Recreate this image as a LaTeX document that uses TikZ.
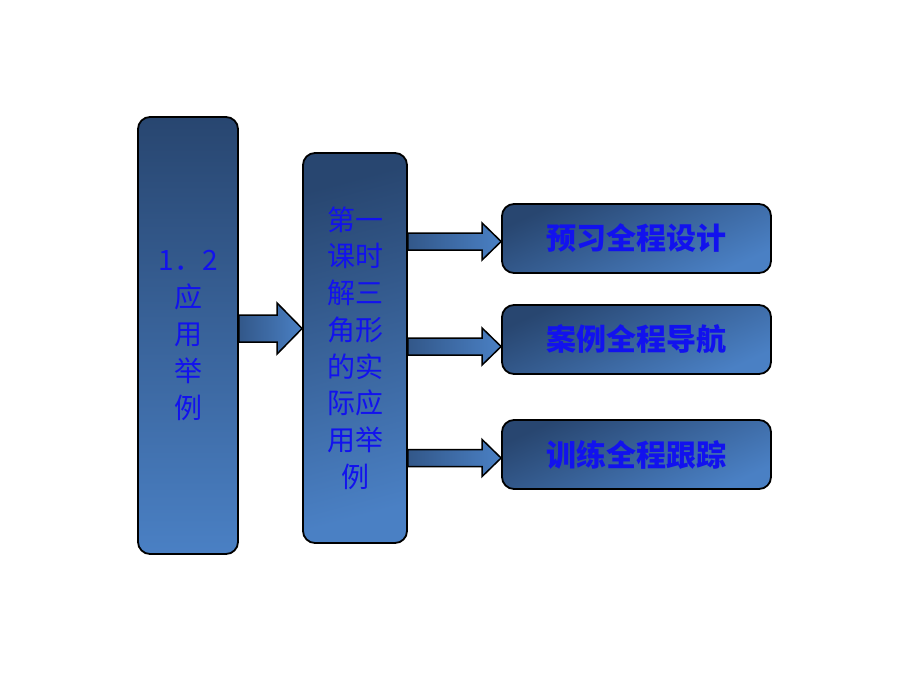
\documentclass[tikz,border=0pt]{standalone}
\usepackage{fontspec}
\newfontfamily\cjk{Noto Sans CJK SC}
\usetikzlibrary{calc}
\definecolor{boxdark}{HTML}{284670}
\definecolor{boxlight}{HTML}{4A80C4}
\definecolor{textblue}{HTML}{1212EE}
\tikzset{
  box/.style={draw=black, line width=1.8pt, rounded corners=12pt,
    top color=boxdark, bottom color=boxlight, inner sep=0pt,
    text=textblue, align=center},
  topicbox/.style={box, shading angle=25, font=\cjk\bfseries\fontsize{30}{32}\selectfont},
  arrowbody/.style={draw=black, line width=1.5pt, left color=boxdark!70!boxlight, right color=boxlight},
}
% block arrow: tail point, tip point, half shaft, half head, head length
\newcommand\blockarrow[5]{
  \draw[arrowbody] let \p1=(#1), \p2=(#2) in
    (\x1,{\y2+#3pt}) -- ({\x2-#5pt},{\y2+#3pt}) -- ({\x2-#5pt},{\y2+#4pt})
    -- (\x2,\y2) -- ({\x2-#5pt},{\y2-#4pt}) -- ({\x2-#5pt},{\y2-#3pt})
    -- (\x1,{\y2-#3pt}) -- cycle;
}
\begin{document}
\begin{tikzpicture}[x=1pt,y=-1pt]
  \useasboundingbox[fill=white] (0,0) rectangle (920,690);

  \node[box, minimum width=100pt, minimum height=437pt,
    font=\cjk\fontsize{28}{37}\selectfont] (chapter) at (188,335.5)
    {1．2\\应\\用\\举\\例};
  \node[box, shading angle=15, minimum width=104pt, minimum height=390pt,
    font=\cjk\fontsize{28}{36.7}\selectfont] (lesson) at (355,348)
    {第一\\课时\\解三\\角形\\的实\\际应\\用举\\例};

  \node[topicbox, minimum width=269pt, minimum height=69pt] (design) at (636.5,238.5) {预习全程设计};
  \node[topicbox, minimum width=269pt, minimum height=69pt] (guide) at (636.5,339.5) {案例全程导航};
  \node[topicbox, minimum width=269pt, minimum height=69pt] (track) at (636.5,454.5) {训练全程跟踪};

  \coordinate (bigtip) at (303,328.5);
  \blockarrow{chapter.east |- bigtip}{lesson.west |- bigtip}{13.5}{25.5}{25}

  \foreach \t/\dy in {design/3, guide/7, track/3.5}{
    \blockarrow{$(lesson.east |- \t.west)+(0,\dy)$}{$(\t.west)+(0,\dy)$}{8.5}{18.5}{19}
  }
\end{tikzpicture}
\end{document}
